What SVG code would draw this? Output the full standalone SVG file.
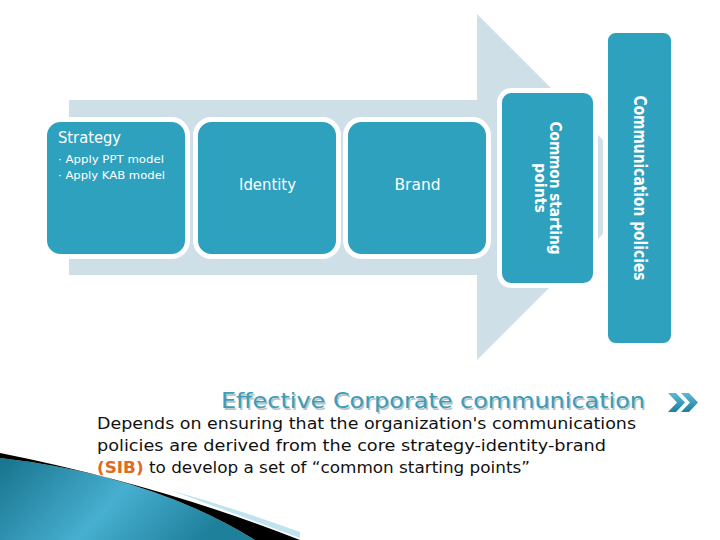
<svg xmlns="http://www.w3.org/2000/svg" width="720" height="540" viewBox="0 0 720 540">
<style>
.box{fill:#2ea1bf;stroke:#ffffff;stroke-width:5}
.lbl{font-family:"DejaVu Sans",Verdana,sans-serif;fill:#ffffff}
.body{font-family:"DejaVu Sans",Verdana,sans-serif;font-size:16px;fill:#111111}
</style>
<defs>
<linearGradient id="swoosh" x1="0" y1="0" x2="1" y2="0.3">
<stop offset="0" stop-color="#17738d"/>
<stop offset="0.55" stop-color="#47afd0"/>
<stop offset="1" stop-color="#1f809c"/>
</linearGradient>
<linearGradient id="chev" x1="0" y1="0" x2="0" y2="1">
<stop offset="0" stop-color="#5cbad6"/>
<stop offset="1" stop-color="#1e7f9d"/>
</linearGradient>
</defs>
<rect width="720" height="540" fill="#ffffff"/>
<g id="arrow">
<polygon points="69,100 477,100 477,14 650,187 477,360 477,275 69,275" fill="#cfdfe7"/>
</g>
<g id="connectors"></g>
<g id="strategy">
<rect class="box" x="44.5" y="119.5" width="143" height="137" rx="16"/>
<text class="lbl" x="58" y="143" font-size="15" textLength="63" lengthAdjust="spacingAndGlyphs">Strategy</text>
<text class="lbl" x="58" y="163" font-size="11" textLength="106" lengthAdjust="spacingAndGlyphs">· Apply PPT model</text>
<text class="lbl" x="58" y="179" font-size="11" textLength="107" lengthAdjust="spacingAndGlyphs">· Apply KAB model</text>
</g>
<g id="identity">
<rect class="box" x="195.5" y="119.5" width="143" height="137" rx="16"/>
<text class="lbl" x="267.5" y="190" font-size="15" text-anchor="middle" textLength="57" lengthAdjust="spacingAndGlyphs">Identity</text>
</g>
<g id="brand">
<rect class="box" x="345.5" y="119.5" width="143" height="137" rx="16"/>
<text class="lbl" x="417.5" y="190" font-size="15" text-anchor="middle" textLength="46" lengthAdjust="spacingAndGlyphs">Brand</text>
</g>
<g id="common">
<rect class="box" x="499.5" y="90.5" width="96" height="195" rx="12"/>
<g transform="translate(550,188) rotate(90)">
<text class="lbl" x="0" y="0" font-size="16" font-weight="bold" text-anchor="middle" textLength="133" lengthAdjust="spacingAndGlyphs">Common starting</text>
<text class="lbl" x="0" y="15" font-size="16" font-weight="bold" text-anchor="middle" textLength="50" lengthAdjust="spacingAndGlyphs">points</text>
</g>
</g>
<g id="policies">
<rect class="box" x="605.5" y="30.5" width="68" height="315" rx="10"/>
<text class="lbl" transform="translate(634,188) rotate(90)" x="0" y="0" font-size="17" font-weight="bold" text-anchor="middle" textLength="185" lengthAdjust="spacingAndGlyphs">Communication policies</text>
</g>
<g id="title">
<text x="222.5" y="409.5" font-family="DejaVu Sans,Verdana,sans-serif" font-size="22" fill="#b9c4c8" textLength="424" lengthAdjust="spacingAndGlyphs">Effective Corporate communication</text>
<text x="221" y="408" font-family="DejaVu Sans,Verdana,sans-serif" font-size="22" fill="#3d9cb7" textLength="424" lengthAdjust="spacingAndGlyphs">Effective Corporate communication</text>
<path d="M668,393 L676,393 L685,402.5 L676,412 L668,412 L677,402.5 Z M681,393 L689,393 L698,402.5 L689,412 L681,412 L690,402.5 Z" fill="url(#chev)"/>
</g>
<g id="bodytext">
<text class="body" x="97" y="429" textLength="539" lengthAdjust="spacingAndGlyphs">Depends on ensuring that the organization's communications</text>
<text class="body" x="97" y="451" textLength="509" lengthAdjust="spacingAndGlyphs">policies are derived from the core strategy-identity-brand</text>
<text class="body" x="97" y="473" textLength="433" lengthAdjust="spacingAndGlyphs"><tspan fill="#e06a1f" font-weight="bold">(SIB)</tspan> to develop a set of “common starting points”</text>
</g>
<g id="swooshdeco">
<path d="M0,458 Q150,475 255,540 L0,540 Z" fill="url(#swoosh)"/>
<path d="M0,453 Q160,485 300,540 L255,540 Q150,475 0,458 Z" fill="#000000"/>
<path d="M170,490 Q240,510 300,532 L300,538 Q230,512 170,490 Z" fill="#bfe3ef"/>
</g>
</svg>
